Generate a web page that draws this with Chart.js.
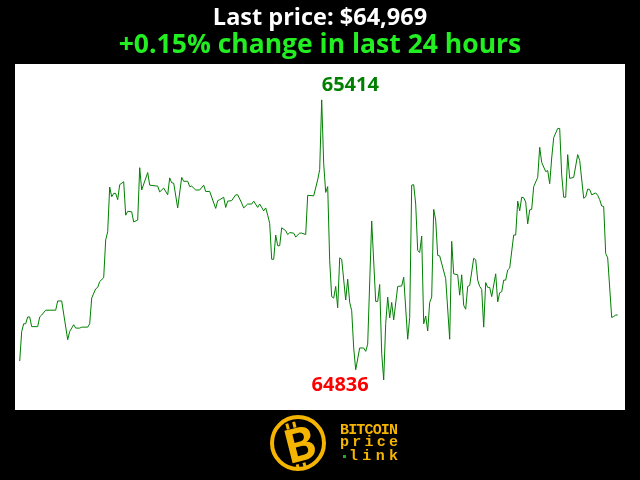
<!DOCTYPE html>
<html>
<head>
<meta charset="utf-8">
<script src="https://cdn.jsdelivr.net/npm/chart.js@4.4.1/dist/chart.umd.min.js"></script>
<style>
  html, body { margin: 0; padding: 0; background: #000; }
  canvas { display: block; }
</style>
</head>
<body>
<canvas id="priceChart" width="640" height="480"></canvas>
<script>
// readings taken along the 24h window (sample number, price in USD)
const samples = [0, 1, 2, 3, 4, 5, 6, 9, 10, 11, 13, 18, 19, 21, 24, 25, 27, 28, 30, 31,
  34, 35, 36, 38, 39, 40, 42, 43, 44, 45, 46, 47, 48, 49, 50, 52, 53, 54, 56, 57,
  59, 60, 61, 64, 65, 69, 70, 72, 74, 75, 76, 77, 79, 81, 82, 84, 85, 86, 88, 90,
  92, 93, 95, 98, 99, 100, 102, 103, 104, 106, 108, 109, 111, 112, 114, 116, 117, 119, 120, 122,
  123, 124, 125, 126, 127, 128, 129, 130, 131, 133, 134, 135, 137, 138, 140, 141, 143, 144, 147, 149,
  150, 151, 152, 153, 154, 155, 156, 157, 158, 159, 160, 161, 163, 164, 165, 166, 167, 168, 170, 172,
  173, 174, 176, 178, 179, 180, 181, 182, 183, 184, 185, 186, 187, 189, 191, 192, 194, 195, 196, 197,
  198, 199, 200, 201, 202, 203, 204, 205, 206, 207, 208, 209, 210, 213, 215, 216, 217, 219, 220, 221,
  222, 223, 224, 225, 227, 228, 229, 230, 231, 232, 233, 234, 235, 236, 238, 239, 240, 241, 242, 243,
  244, 245, 247, 248, 249, 250, 251, 252, 253, 254, 255, 256, 257, 259, 260, 261, 263, 264, 265, 266,
  267, 269, 270, 271, 272, 273, 274, 275, 277, 279, 280, 282, 283, 284, 285, 286, 288, 289, 290, 291,
  292, 293, 294, 296, 297, 298, 299];
const prices = [64875, 64936, 64952, 64952, 64966, 64966, 64946, 64946, 64966, 64970, 64980, 64980, 64999, 64999, 64919, 64936, 64950, 64943, 64943, 64945,
  64945, 64952, 65005, 65024, 65027, 65039, 65047, 65125, 65142, 65234, 65214, 65221, 65221, 65208, 65239, 65245, 65176, 65184, 65183, 65162,
  65166, 65274, 65228, 65264, 65238, 65236, 65224, 65232, 65218, 65253, 65243, 65242, 65191, 65254, 65246, 65246, 65235, 65236, 65228, 65228,
  65238, 65225, 65225, 65190, 65206, 65208, 65213, 65192, 65205, 65206, 65218, 65218, 65201, 65191, 65199, 65199, 65205, 65192, 65199, 65185,
  65191, 65176, 65159, 65085, 65085, 65135, 65113, 65113, 65150, 65144, 65136, 65140, 65139, 65131, 65139, 65139, 65136, 65217, 65216, 65249,
  65270, 65414, 65282, 65223, 65235, 65082, 65008, 65005, 65029, 64985, 65088, 65085, 65001, 65044, 64996, 64979, 64902, 64857, 64902, 64902,
  64895, 64910, 65164, 64998, 64998, 65033, 64891, 64836, 64952, 65007, 64964, 64996, 64960, 65029, 65030, 65048, 64920, 64965, 65238, 65239,
  65199, 65103, 65099, 65133, 64952, 64968, 64937, 64996, 65007, 65188, 65166, 65093, 65092, 65045, 64920, 65122, 65055, 65053, 65011, 65053,
  64990, 64982, 65029, 65031, 65087, 65084, 65042, 65029, 65023, 64945, 65037, 65027, 65027, 65008, 65055, 64997, 65016, 65018, 65042, 65042,
  65063, 65067, 65135, 65135, 65205, 65185, 65213, 65212, 65203, 65158, 65187, 65188, 65235, 65254, 65316, 65285, 65266, 65268, 65241, 65294,
  65336, 65355, 65355, 65259, 65213, 65213, 65301, 65252, 65254, 65301, 65289, 65211, 65214, 65230, 65229, 65218, 65222, 65217, 65208, 65195,
  65194, 65097, 65088, 64965, 64967, 64970, 64970];

const titleText = 'Last price: $64,969';
const subtitleText = '+0.15% change in last 24 hours';

const FONT = "'Open Sans', 'Noto Sans', sans-serif";

// black page, white plot box
const backdrop = {
  id: 'backdrop',
  beforeDraw(chart) {
    const { ctx, chartArea: a } = chart;
    ctx.save();
    ctx.fillStyle = '#000';
    ctx.fillRect(0, 0, chart.width, chart.height);
    ctx.fillStyle = '#fff';
    ctx.fillRect(a.left, a.top, a.right - a.left, a.bottom - a.top);
    ctx.restore();
  }
};

// high / low labels
const extremes = {
  id: 'extremes',
  afterDatasetsDraw(chart) {
    const ctx = chart.ctx;
    const pts = chart.getDatasetMeta(0).data;
    const hi = prices.indexOf(Math.max(...prices));
    const lo = prices.indexOf(Math.min(...prices));
    ctx.save();
    ctx.font = 'bold 20px ' + FONT;
    ctx.textBaseline = 'alphabetic';
    ctx.fillStyle = '#008000';
    ctx.textAlign = 'left';
    ctx.fillText(String(prices[hi]), pts[hi].x, pts[hi].y - 9);
    ctx.fillStyle = '#ff0000';
    ctx.textAlign = 'right';
    ctx.fillText(String(prices[lo]), pts[lo].x - 15, pts[lo].y + 11);
    ctx.restore();
  }
};

// logo under the chart
function spreadText(ctx, text, x, y, width) {
  const step = (width - ctx.measureText(text[text.length - 1]).width) / (text.length - 1);
  for (let i = 0; i < text.length; i++) {
    ctx.fillText(text[i], x + i * step, y);
  }
}

const logo = {
  id: 'logo',
  afterDraw(chart) {
    const ctx = chart.ctx;
    const gold = '#f5b400';
    ctx.save();
    ctx.strokeStyle = gold;
    ctx.lineWidth = 4;
    ctx.beginPath();
    ctx.arc(298, 443, 26, 0, Math.PI * 2);
    ctx.stroke();

    ctx.translate(300, 445);
    ctx.rotate(-0.25);
    ctx.fillStyle = gold;
    ctx.font = "900 46px Lato, 'DejaVu Sans', sans-serif";
    ctx.textAlign = 'center';
    ctx.textBaseline = 'middle';
    ctx.fillText('B', 0, 1);
    ctx.fillRect(-9, -24, 3, 6);
    ctx.fillRect(-2, -24, 3, 6);
    ctx.fillRect(-9, 18, 3, 6);
    ctx.fillRect(-2, 18, 3, 6);
    ctx.restore();

    ctx.save();
    ctx.fillStyle = gold;
    ctx.font = "bold 15px 'Liberation Mono', 'DejaVu Sans Mono', monospace";
    ctx.textAlign = 'left';
    ctx.textBaseline = 'alphabetic';
    spreadText(ctx, 'BITCOIN', 340, 434, 58);
    spreadText(ctx, 'price', 340, 446, 58);
    spreadText(ctx, 'link', 349, 460, 49);
    ctx.fillStyle = '#22aa22';
    ctx.fillRect(343, 455, 3, 3);
    ctx.restore();
  }
};

document.addEventListener('DOMContentLoaded', function() {
  const ctx = document.getElementById('priceChart').getContext('2d');

  new Chart(ctx, {
    type: 'line',
    data: {
      datasets: [{
        label: 'BTC',
        data: samples.map((s, i) => ({ x: s, y: prices[i] })),
        borderColor: '#008000',
        borderWidth: 1,
        pointRadius: 0,
        tension: 0,
        fill: false
      }]
    },
    options: {
      responsive: false,
      animation: false,
      devicePixelRatio: 1,
      layout: { padding: { left: 15, right: 15, top: 0, bottom: 70 } },
      scales: {
        x: { type: 'linear', display: false, min: -2.35, max: 302.65 },
        y: { display: false, min: 64774, max: 65488 }
      },
      plugins: {
        legend: { display: false },
        tooltip: { enabled: false },
        title: {
          display: true,
          text: titleText,
          color: '#ffffff',
          font: { family: FONT, size: 23.5, weight: 'bold', lineHeight: 28 / 23.5 },
          padding: { top: 4.8, bottom: 0 }
        },
        subtitle: {
          display: true,
          text: subtitleText,
          color: '#22ee22',
          font: { family: FONT, size: 26.5, weight: 'bold', lineHeight: 24.4 / 26.5 },
          padding: { top: 0, bottom: 6.8 }
        }
      }
    },
    plugins: [backdrop, extremes, logo]
  });
});
</script>
</body>
</html>
